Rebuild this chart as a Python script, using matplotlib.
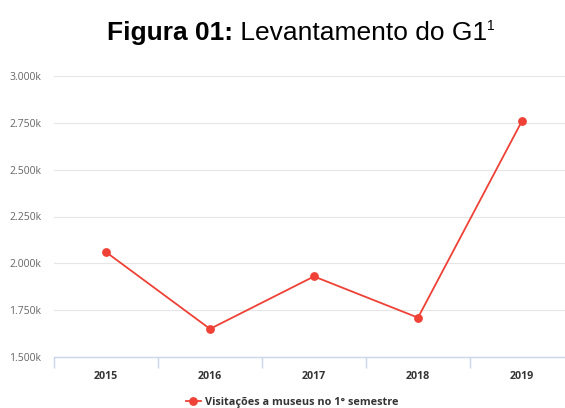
import matplotlib.pyplot as plt
from matplotlib.ticker import FuncFormatter, FixedLocator

# DATA
anos = ['2015', '2016', '2017', '2018', '2019']
visitas = [2060, 1650, 1930, 1710, 2760]
yticks = [1500, 1750, 2000, 2250, 2500, 2750, 3000]
serie = 'Visitações a museus no 1° semestre'

RED = '#ef4136'
AXIS = '#ccd6eb'
GRID = '#e6e6e6'

fig = plt.figure(figsize=(5.65, 4.08), dpi=100)
ax = fig.add_axes([54 / 565, 51 / 408, 520 / 565, 281 / 408])

x = list(range(len(anos)))
ax.plot(x, visitas, color=RED, linewidth=1.3, marker='o', markersize=5.3,
        label=serie, zorder=3, clip_on=False)

# AXES
ax.set_xlim(-0.5, len(anos) - 0.5)
ax.set_ylim(yticks[0], yticks[-1])
ax.set_yticks(yticks)
ax.yaxis.set_major_formatter(FuncFormatter(lambda v, p: f'{v / 1000:.3f}k'))
ax.set_xticks(x)
ax.set_xticklabels(anos, fontfamily='Open Sans', fontweight='bold',
                   fontsize=7.7, color='#333333')
ax.xaxis.set_minor_locator(FixedLocator([i - 0.5 for i in range(len(anos) + 1)]))
ax.tick_params(axis='x', which='major', length=0, pad=10)
ax.tick_params(axis='x', which='minor', length=8, color=AXIS, width=1)
ax.tick_params(axis='y', length=0, pad=9, labelsize=7.5, labelcolor='#666666')
for lbl in ax.get_yticklabels():
    lbl.set_fontfamily('Open Sans')

ax.grid(axis='y', color=GRID, linewidth=0.8)
ax.set_axisbelow(True)
for s in ['top', 'right', 'left']:
    ax.spines[s].set_visible(False)
ax.spines['bottom'].set_color(AXIS)
ax.spines['bottom'].set_linewidth(1)

# LEGEND
fig.legend(loc='center', bbox_to_anchor=(292 / 565, 1 - 402 / 408), frameon=False,
           prop={'family': 'Open Sans', 'weight': 'bold', 'size': 7.8},
           labelcolor='#333333', handlelength=1.4, handletextpad=0.4,
           borderpad=0)

# TITLE
t1 = fig.text(107 / 565, 1 - 40 / 408, 'Figura 01:', fontfamily='Liberation Sans',
              fontweight='bold', fontsize=19, va='baseline', ha='left')
t2 = ax.annotate(' Levantamento do G1', xy=(1, 0), xycoords=t1, va='bottom', ha='left',
                 fontfamily='Liberation Sans', fontsize=19, annotation_clip=False)
t3 = ax.annotate('1', xy=(1, 0.52), xycoords=t2, va='bottom', ha='left',
                 fontfamily='Liberation Sans', fontsize=10, annotation_clip=False)

fig.savefig('out.png', dpi=100)
